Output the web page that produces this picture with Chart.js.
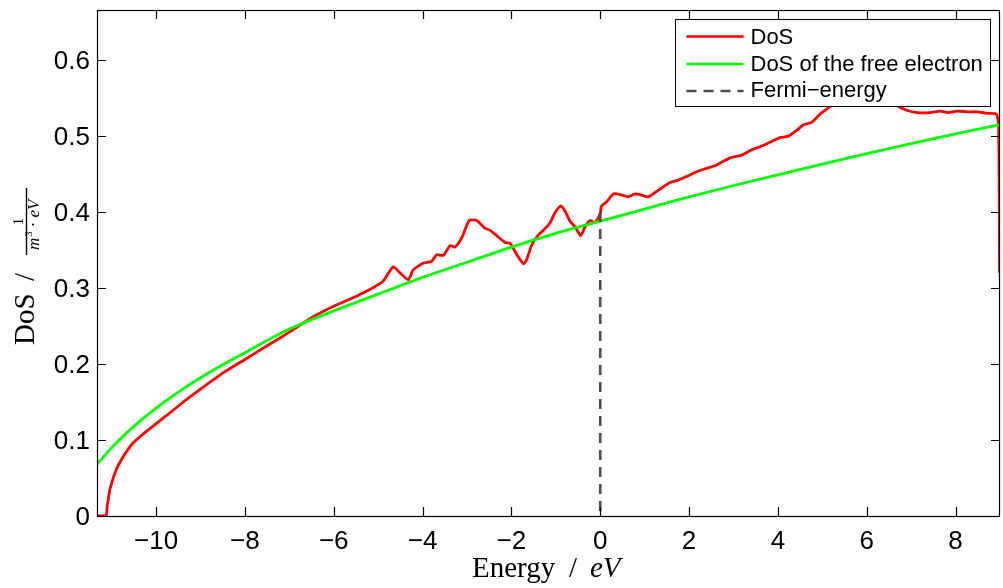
<!DOCTYPE html>
<html>
<head>
<meta charset="utf-8">
<script src="https://cdn.jsdelivr.net/npm/chart.js@4.4.0/dist/chart.umd.min.js"></script>
<style>
  html, body { margin: 0; padding: 0; background: #fff; }
</style>
</head>
<body>
<canvas id="dosChart" width="1003" height="588"></canvas>
<script>
// Density of states of the simulated system (energy in eV)
const energy = [
  -11.33, -11.13, -11.10, -11.07, -11.04, -10.93, -10.85, -10.74, -10.65, -10.52,
  -10.35, -10.14, -9.77, -9.32, -9.0, -8.5, -8.0, -7.5, -7.0, -6.5,
  -6.0, -5.5, -5.19, -4.89, -4.66, -4.51, -4.32, -4.21, -3.98, -3.80,
  -3.68, -3.53, -3.38, -3.27, -3.12, -2.95, -2.78, -2.60, -2.48, -2.33,
  -2.14, -2.03, -1.88, -1.73, -1.66, -1.54, -1.39, -1.28, -1.13, -1.02,
  -0.89, -0.79, -0.68, -0.57, -0.44, -0.34, -0.23, -0.12, 0.0, 0.03,
  0.15, 0.30, 0.45, 0.63, 0.78, 0.90, 1.08, 1.31, 1.57, 1.76,
  1.95, 2.17, 2.36, 2.62, 2.77, 2.96, 3.19, 3.41, 3.60, 3.86,
  4.05, 4.24, 4.43, 4.58, 4.76, 4.95, 5.18, 5.45, 5.75, 6.05,
  6.35, 6.55, 6.72, 6.90, 7.13, 7.43, 7.65, 7.84, 8.03, 8.26,
  8.48, 8.71, 8.92, 8.97, 8.99
];
const dos = [
  0, 0, 0.013, 0.024, 0.035, 0.056, 0.067, 0.078, 0.086, 0.096,
  0.105, 0.115, 0.132, 0.153, 0.167, 0.188, 0.206, 0.224, 0.242, 0.261,
  0.276, 0.289, 0.298, 0.309, 0.328, 0.320, 0.311, 0.324, 0.333, 0.335,
  0.344, 0.343, 0.356, 0.354, 0.366, 0.389, 0.389, 0.379, 0.376, 0.369,
  0.360, 0.359, 0.344, 0.332, 0.337, 0.357, 0.370, 0.376, 0.386, 0.399,
  0.408, 0.401, 0.388, 0.381, 0.369, 0.381, 0.389, 0.386, 0.398, 0.408,
  0.414, 0.424, 0.423, 0.420, 0.424, 0.423, 0.420, 0.429, 0.439, 0.442,
  0.447, 0.453, 0.457, 0.462, 0.467, 0.472, 0.475, 0.482, 0.486, 0.493,
  0.498, 0.500, 0.508, 0.515, 0.518, 0.529, 0.539, 0.552, 0.562, 0.566,
  0.558, 0.546, 0.539, 0.534, 0.531, 0.531, 0.533, 0.531, 0.533, 0.532,
  0.532, 0.530, 0.529, 0.513, 0.320
];

// Free electron density of states
const freeEnergy = [
  -11.33, -11.0, -10.5, -10.0, -9.5, -9.0, -8.0, -7.0, -6.0, -5.0,
  -4.0, -3.0, -2.0, -1.0, 0.0, 1.0, 2.0, 3.0, 4.0, 5.0,
  6.0, 7.0, 8.0, 9.0
];
const freeDos = [
  0.068, 0.090, 0.118, 0.142, 0.163, 0.182, 0.215, 0.246, 0.270, 0.292,
  0.314, 0.334, 0.354, 0.372, 0.388, 0.404, 0.420, 0.435, 0.449, 0.463,
  0.477, 0.490, 0.503, 0.515
];

// Fermi energy marker
const fermiEnergy = [0, 0];
const fermiDos = [0.40, 0];

const xTicks = [-10, -8, -6, -4, -2, 0, 2, 4, 6, 8];
const yTicks = [0, 0.1, 0.2, 0.3, 0.4, 0.5, 0.6];
const seriesLabels = ['DoS', 'DoS of the free electron', 'Fermi\u2212energy'];

const sansFont = '"Liberation Sans", Arial, Helvetica, sans-serif';
const serifFont = '"Liberation Serif", "Times New Roman", serif';

const toPoints = (xs, ys) => xs.map((x, i) => ({ x: x, y: ys[i] }));
const minusLabel = v => (v < 0 ? '\u2212' + Math.abs(v) : String(v));

// box, inward ticks, legend and the LaTeX-style axis titles
const frameAndLabels = {
  id: 'frameAndLabels',
  afterDraw(chart) {
    const { ctx, chartArea: a, scales } = chart;
    const tick = 9;
    ctx.save();
    ctx.strokeStyle = '#000';
    ctx.lineWidth = 1.2;
    ctx.strokeRect(a.left + 0.5, a.top + 0.5, a.right - a.left - 1, a.bottom - a.top);

    ctx.beginPath();
    xTicks.forEach(v => {
      const px = Math.round(scales.x.getPixelForValue(v)) + 0.5;
      ctx.moveTo(px, a.bottom); ctx.lineTo(px, a.bottom - tick);
      ctx.moveTo(px, a.top); ctx.lineTo(px, a.top + tick);
    });
    yTicks.forEach(v => {
      const py = Math.round(scales.y.getPixelForValue(v)) + 0.5;
      ctx.moveTo(a.left, py); ctx.lineTo(a.left + tick, py);
      ctx.moveTo(a.right, py); ctx.lineTo(a.right - tick, py);
    });
    ctx.stroke();

    // legend
    const lx = a.left + 578.5, ly = a.top + 9.5, lw = 315, lh = 87;
    ctx.fillStyle = '#fff';
    ctx.fillRect(lx, ly, lw, lh);
    ctx.lineWidth = 1;
    ctx.strokeRect(lx, ly, lw, lh);
    const rowsLine = [36.5, 64, 91];
    const rowsText = [44, 71, 97];
    ctx.font = '22px ' + sansFont;
    ctx.textBaseline = 'alphabetic';
    ctx.textAlign = 'left';
    chart.data.datasets.forEach((ds, i) => {
      ctx.save();
      ctx.strokeStyle = ds.borderColor;
      ctx.lineWidth = 2.4;
      ctx.setLineDash(ds.borderDash || []);
      ctx.beginPath();
      ctx.moveTo(lx + 11, rowsLine[i]);
      ctx.lineTo(lx + 68, rowsLine[i]);
      ctx.stroke();
      ctx.restore();
      ctx.fillStyle = '#000';
      ctx.fillText(ds.label, lx + 75, rowsText[i]);
    });

    // x axis title: Energy / eV
    ctx.fillStyle = '#000';
    ctx.font = '29px ' + serifFont;
    ctx.fillText('Energy', 472, 577);
    ctx.fillText('/', 569, 577);
    ctx.font = 'italic 29px ' + serifFont;
    ctx.fillText('eV', 590, 577);

    // y axis title: DoS / 1/(m^3 . eV), rotated
    ctx.translate(34, 345);
    ctx.rotate(-Math.PI / 2);
    ctx.font = '29px ' + serifFont;
    ctx.fillText('DoS', 0, 0);
    ctx.fillText('/', 64, 0);
    // fraction
    const f0 = 90, f1 = 157, fc = (f0 + f1) / 2;
    ctx.lineWidth = 1.4;
    ctx.beginPath();
    ctx.moveTo(f0, -7.5); ctx.lineTo(f1, -7.5);
    ctx.stroke();
    ctx.font = '15px ' + serifFont;
    ctx.textAlign = 'center';
    ctx.fillText('1', fc, -11);
    ctx.textAlign = 'left';
    let u = 95;
    ctx.font = 'italic 17px ' + serifFont;
    ctx.fillText('m', u, 5);
    u += ctx.measureText('m').width + 1;
    ctx.font = '11px ' + serifFont;
    ctx.fillText('3', u, -2);
    u += ctx.measureText('3').width + 4;
    ctx.font = '17px ' + serifFont;
    ctx.fillText('\u00b7', u, 5);
    u += ctx.measureText('\u00b7').width + 4;
    ctx.font = 'italic 17px ' + serifFont;
    ctx.fillText('eV', u, 5);
    ctx.restore();
  }
};

new Chart(document.getElementById('dosChart'), {
  type: 'line',
  data: {
    datasets: [
      {
        label: seriesLabels[0],
        data: toPoints(energy, dos),
        borderColor: '#ff0000',
        borderWidth: 2.8,
        pointRadius: 0,
        tension: 0.2,
        order: 3
      },
      {
        label: seriesLabels[1],
        data: toPoints(freeEnergy, freeDos),
        borderColor: '#00ff00',
        borderWidth: 2.8,
        pointRadius: 0,
        cubicInterpolationMode: 'monotone',
        order: 2
      },
      {
        label: seriesLabels[2],
        data: toPoints(fermiEnergy, fermiDos),
        borderColor: '#4d4d4d',
        borderWidth: 2.6,
        borderDash: [10, 7],
        pointRadius: 0,
        order: 1
      }
    ]
  },
  options: {
    responsive: false,
    animation: false,
    devicePixelRatio: 1,
    layout: { autoPadding: false, padding: { left: 0, right: 3, top: 10, bottom: 0 } },
    plugins: {
      legend: { display: false },
      tooltip: { enabled: false }
    },
    scales: {
      x: {
        type: 'linear',
        min: -11.33,
        max: 9,
        afterBuildTicks: s => { s.ticks = xTicks.map(v => ({ value: v })); },
        afterFit: s => { s.height = 72; s.paddingLeft = 0; s.paddingRight = 0; },
        grid: { display: false, drawTicks: false },
        border: { display: false },
        ticks: {
          font: { family: sansFont, size: 26 },
          color: '#000',
          padding: 10,
          maxRotation: 0,
          autoSkip: false,
          callback: minusLabel
        }
      },
      y: {
        type: 'linear',
        min: 0,
        max: 0.666,
        afterBuildTicks: s => { s.ticks = yTicks.map(v => ({ value: v })); },
        afterFit: s => { s.width = 97; s.paddingTop = 0; s.paddingBottom = 0; },
        grid: { display: false, drawTicks: false },
        border: { display: false },
        ticks: {
          font: { family: sansFont, size: 26 },
          color: '#000',
          padding: 7,
          labelOffset: 2,
          autoSkip: false,
          callback: minusLabel
        }
      }
    }
  },
  plugins: [frameAndLabels]
});
</script>
</body>
</html>
